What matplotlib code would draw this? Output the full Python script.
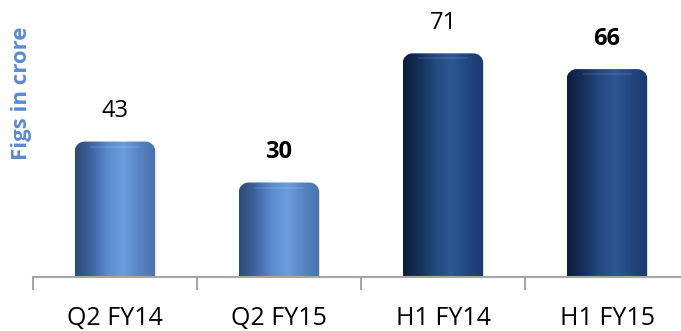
import matplotlib.pyplot as plt
import numpy as np
from matplotlib.path import Path
from matplotlib.patches import PathPatch
from matplotlib.colors import LinearSegmentedColormap

categories = ['Q2 FY14', 'Q2 FY15', 'H1 FY14', 'H1 FY15']
values = [43, 30, 71, 66]
bold_labels = [False, True, False, True]
bar_kind = ['light', 'light', 'dark', 'dark']

plt.rcParams['font.family'] = ['Open Sans', 'DejaVu Sans']

# horizontal shading that makes each bar look like a cylinder
shades = {
    'light': ['#2c4a73', '#3d64a0', '#5a8bcc', '#6c9edb', '#5684c2', '#4873ad'],
    'dark': ['#0c1d38', '#15305a', '#234a80', '#2d5792', '#224680', '#1b3a6c'],
}

fig = plt.figure(figsize=(6.81, 3.31), dpi=100)
ax = fig.add_axes([33 / 681, 54 / 331, 656 / 681, 252 / 331])

bars = ax.bar(range(len(values)), values, width=0.49, color='none', edgecolor='none')


def rounded_top(x0, w, h, rx, ry):
    x1 = x0 + w
    k = 0.55
    verts = [
        (x0, 0), (x1, 0), (x1, h - ry),
        (x1, h - ry + k * ry), (x1 - rx + k * rx, h), (x1 - rx, h),
        (x0 + rx, h),
        (x0 + rx - k * rx, h), (x0, h - ry + k * ry), (x0, h - ry),
        (x0, 0),
    ]
    codes = [Path.MOVETO, Path.LINETO, Path.LINETO,
             Path.CURVE4, Path.CURVE4, Path.CURVE4,
             Path.LINETO,
             Path.CURVE4, Path.CURVE4, Path.CURVE4,
             Path.CLOSEPOLY]
    return Path(verts, codes)


grad = np.linspace(0, 1, 256).reshape(1, -1)
for bar, kind, val, bold in zip(bars, bar_kind, values, bold_labels):
    x0, w, h = bar.get_x(), bar.get_width(), bar.get_height()
    cmap = LinearSegmentedColormap.from_list(kind, shades[kind])
    clip = PathPatch(rounded_top(x0, w, h, 0.06, 3.0), facecolor='none',
                     edgecolor='none', transform=ax.transData)
    ax.add_patch(clip)
    im = ax.imshow(grad, cmap=cmap, aspect='auto', extent=(x0, x0 + w, 0, h),
                   interpolation='bicubic', zorder=2)
    im.set_clip_path(clip)
    # faint highlight near the top edge
    ax.plot([x0 + 0.1, x0 + w - 0.1], [h - 1.6, h - 1.6], color='white',
            alpha=0.08, lw=1.5, zorder=3, solid_capstyle='round')
    ax.text(bar.get_x() + w / 2, h + 9.6, str(val), ha='center', va='center',
            fontsize=17, fontweight='bold' if bold else 'normal', color='black')

ax.set_xlim(-0.5, len(values) - 0.5)
ax.set_ylim(0, 80)

for s in ['top', 'right', 'left']:
    ax.spines[s].set_visible(False)
ax.spines['bottom'].set_color('#a6a6a6')
ax.spines['bottom'].set_linewidth(1.5)

ax.set_yticks([])
ax.set_xticks(range(len(categories)))
ax.set_xticklabels(categories, fontsize=18)
ax.tick_params(axis='x', which='major', length=0, pad=21)
ax.set_xticks(np.arange(-0.5, len(categories)), minor=True)
ax.tick_params(axis='x', which='minor', length=9, width=1.5, color='#a6a6a6',
               direction='out')

fig.text(22 / 681, 1 - 93 / 331, 'Figs in crore', rotation=90, ha='center',
         va='center', fontsize=16, fontweight='bold', color='#5b8bd0')

fig.savefig('out.png', dpi=100)
